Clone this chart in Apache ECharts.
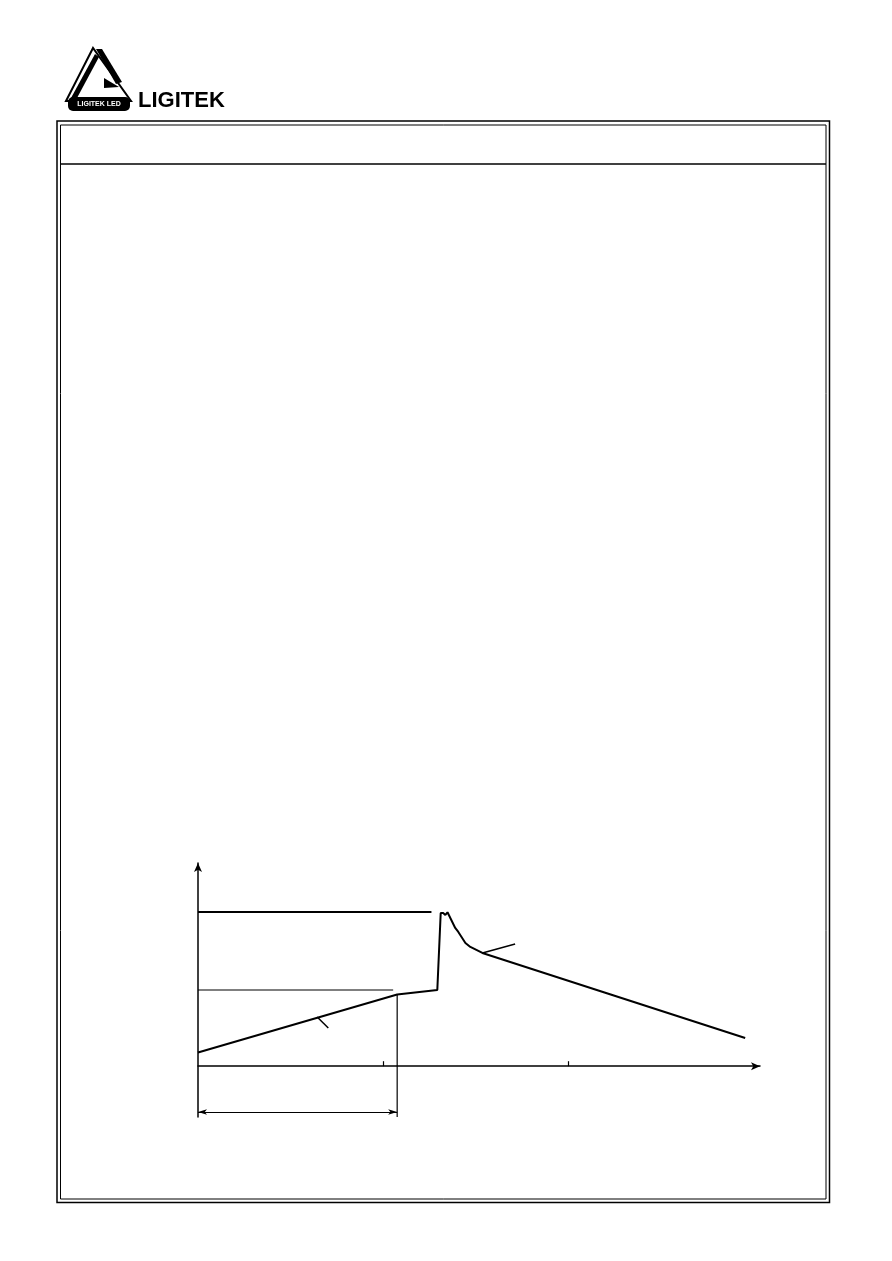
<!DOCTYPE html>
<html>
<head>
<meta charset="utf-8">
<script src="https://cdn.jsdelivr.net/npm/echarts@6/dist/echarts.min.js"></script>
<style>
html,body{margin:0;padding:0;background:#fff;}
#c{width:892px;height:1261px;}
</style>
</head>
<body>
<div id="c"></div>
<script>
// ---- data (time in s, temperature in °C) ----
var profileTime = [0, 64.5, 77.5, 78.6, 79.4, 80.1, 80.8, 81.4, 83.3, 84.3, 84.9, 86.6, 88.2, 92.1, 177.2];
var profileTemp = [23, 120, 127.5, 256.4, 256.4, 253, 257.5, 254.7, 231.3, 224.6, 226.2, 206.2, 199.5, 189.5, 47.3];
var peakLineTime = [0, 75.6];
var peakLineTemp = [258, 258];
var preheatLineTime = [0, 63.2];
var preheatLineTemp = [127.5, 127.5];
var preheatEndTime = [64.5, 64.5];
var preheatEndTemp = [120, -85];
var dimTime = [0, 64.5];
var dimTemp = [-76.6, -76.6];
var leader1Time = [92.1, 102.7];
var leader1Temp = [189.5, 204.5];
var leader2Time = [38.6, 42.2];
var leader2Temp = [82.3, 63.9];
var xTickValues = [60, 120];
var xRange = [0, 182];
var yRange = [-85, 340];

function pairs(xs, ys){ return xs.map(function(x,i){ return [x, ys[i]]; }); }

var chart = echarts.init(document.getElementById('c'), null, {renderer:'canvas'});
var black = '#000';

var option = {
  backgroundColor: '#fff',
  animation: false,
  grid: {left: 198, top: 863, width: 562, height: 254, containLabel: false},
  xAxis: {
    type: 'value', min: xRange[0], max: xRange[1],
    axisLine: {show: true, onZero: true, symbol: ['none','arrow'], symbolSize: [6, 9], lineStyle: {color: black, width: 1.5}},
    axisTick: {show: true, inside: true, length: 5, customValues: xTickValues, lineStyle: {color: black, width: 1.2}},
    axisLabel: {show: false},
    splitLine: {show: false}
  },
  yAxis: {
    type: 'value', min: yRange[0], max: yRange[1],
    axisLine: {show: true, onZero: false, symbol: ['none','arrow'], symbolSize: [6, 9], lineStyle: {color: black, width: 1.5}},
    axisTick: {show: false},
    axisLabel: {show: false},
    splitLine: {show: false}
  },
  series: [
    {type:'line', data: pairs(profileTime, profileTemp), symbol:'none', lineStyle:{color:black, width:2}, silent:true},
    {type:'line', data: pairs(peakLineTime, peakLineTemp), symbol:'none', lineStyle:{color:black, width:1.8}, silent:true},
    {type:'line', data: pairs(preheatLineTime, preheatLineTemp), symbol:'none', lineStyle:{color:black, width:1.2}, silent:true},
    {type:'line', data: pairs(preheatEndTime, preheatEndTemp), symbol:'none', lineStyle:{color:black, width:1.2}, silent:true,
      markLine: {
        silent: true, symbol: ['arrow','arrow'], symbolSize: [4, 9],
        label: {show:false},
        lineStyle: {color: black, width: 1.2, type: 'solid'},
        data: [[{coord:[dimTime[0], dimTemp[0]]},{coord:[dimTime[1], dimTemp[1]]}]]
      }
    },
    {type:'line', data: pairs(leader1Time, leader1Temp), symbol:'none', lineStyle:{color:black, width:1.5}, silent:true},
    {type:'line', data: pairs(leader2Time, leader2Temp), symbol:'none', lineStyle:{color:black, width:1.5}, silent:true}
  ],
  graphic: [
    // outer double frame
    {type:'rect', shape:{x:57, y:121, width:772.5, height:1081.5}, style:{fill:'none', stroke:black, lineWidth:1.5}, silent:true},
    {type:'rect', shape:{x:60.5, y:125, width:765.5, height:1074}, style:{fill:'none', stroke:black, lineWidth:1}, silent:true},
    {type:'line', shape:{x1:60.5, y1:164, x2:826, y2:164}, style:{stroke:black, lineWidth:1.5}, silent:true},
    // logo
    {type:'polygon', shape:{points:[[93,48],[66,101],[131,101]]}, style:{fill:'#fff', stroke:black, lineWidth:2}, silent:true},
    {type:'polygon', shape:{points:[[95,54],[99,57],[77,98],[71,98]]}, style:{fill:black}, silent:true},
    {type:'polygon', shape:{points:[[96,49],[102,49],[122,82],[116,84]]}, style:{fill:black}, silent:true},
    {type:'polygon', shape:{points:[[104,78],[119,87],[104,88]]}, style:{fill:black}, silent:true},
    {type:'rect', shape:{x:68, y:97, width:62, height:14, r:5}, style:{fill:black}, silent:true},
    {type:'text', style:{text:'LIGITEK LED', x:99, y:104.5, font:'bold 7px "Liberation Sans", Arial', fill:'#fff', align:'center', verticalAlign:'middle'}, silent:true},
    {type:'text', style:{text:'LIGITEK', x:138, y:101, font:'bold 22px "Liberation Sans", Arial', fill:black, align:'left', verticalAlign:'middle'}, silent:true}
  ]
};
chart.setOption(option);
</script>
</body>
</html>
